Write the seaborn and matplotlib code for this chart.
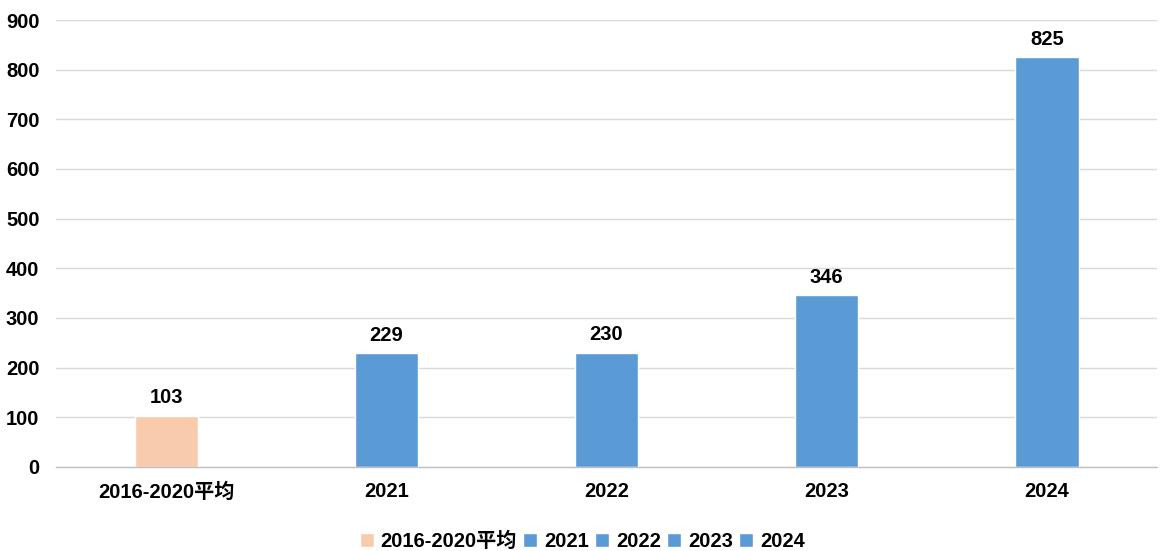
import matplotlib
matplotlib.use("Agg")
import matplotlib.pyplot as plt
import seaborn as sns
import pandas as pd
import numpy as np

categories = ["2016-2020平均", "2021", "2022", "2023", "2024"]
values = [103, 229, 230, 346, 825]
colors = ["#F8CBAD", "#5B9BD5", "#5B9BD5", "#5B9BD5", "#5B9BD5"]
yticks = [0, 100, 200, 300, 400, 500, 600, 700, 800, 900]

sns.set_theme(style="white")
plt.rcParams['font.family'] = ['Liberation Sans', 'Noto Sans CJK SC', 'DejaVu Sans']
plt.rcParams['font.weight'] = 'bold'
plt.rcParams['text.color'] = 'black'

FS = 14.5

df = pd.DataFrame({"cat": categories, "val": values})

fig, ax = plt.subplots(figsize=(11.68, 5.51), dpi=100)
fig.subplots_adjust(left=0.048, right=0.9906, top=0.9637, bottom=0.1525)

sns.barplot(data=df, x="cat", y="val", hue="cat", palette=dict(zip(categories, colors)),
            dodge=False, width=0.287, ax=ax, legend=True, saturation=1)

ax.set_ylim(0, 900)
ax.set_xlim(-0.5, len(categories) - 0.5)
ax.set_yticks(yticks)
ax.yaxis.grid(True, color="#D9D9D9", linewidth=1)
ax.set_axisbelow(True)
ax.set_xlabel("")
ax.set_ylabel("")
for s in ["left", "right", "top"]:
    ax.spines[s].set_visible(False)
ax.spines["bottom"].set_color("#BFBFBF")
ax.spines["bottom"].set_linewidth(1)

ax.tick_params(axis="y", length=0, labelsize=FS, pad=12, labelcolor="black")
ax.tick_params(axis="x", which="major", length=0, labelsize=FS, pad=11, labelcolor="black")
ax.set_xticks(np.arange(-0.5, len(categories) + 0.5, 1), minor=True)
ax.tick_params(axis="x", which="minor", length=7, color="#BFBFBF", width=1)
for lbl in ax.get_xticklabels() + ax.get_yticklabels():
    lbl.set_fontweight("bold")

for cont in ax.containers:
    ax.bar_label(cont, fmt="%d", padding=6, fontsize=FS, fontweight="bold", color="black")

leg = ax.legend(loc="upper center", bbox_to_anchor=(0.478, -0.105), ncol=5, frameon=False,
                fontsize=FS, handlelength=0.7, handleheight=0.7, handletextpad=0.35,
                columnspacing=0.3)
for t in leg.get_texts():
    t.set_fontweight("bold")
    t.set_color("black")

fig.savefig("out.png", dpi=100)
